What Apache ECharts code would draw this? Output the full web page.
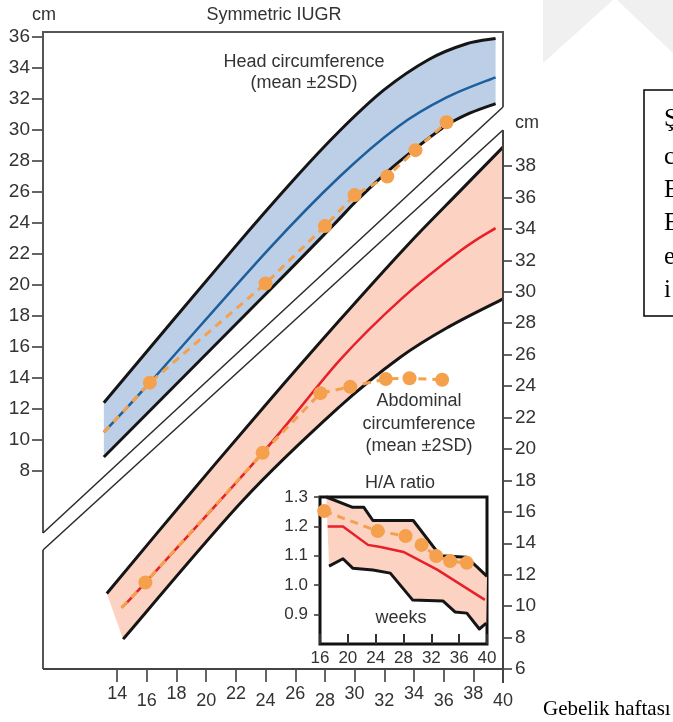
<!DOCTYPE html>
<html><head><meta charset="utf-8">
<script src="https://cdn.jsdelivr.net/npm/echarts@6/dist/echarts.min.js"></script>
<style>html,body{margin:0;padding:0;background:#fff}#c{width:673px;height:722px}</style>
</head><body><div id="c"></div>
<script>
// ---------- DATA ----------
// Head circumference panel: [gestational week, cm] (left axis)
const headUpper = [[13.1,12.4],[21.8,22.3],[26.0,26.9],[29.0,29.95],[32.0,32.6],[35.0,34.55],[37.5,35.55],[39.5,35.9]];
const headMean  = [[13.1,10.5],[16.2,13.7],[24.2,22.3],[29.0,27.0],[32.9,30.2],[36.2,32.1],[39.5,33.4]];
const headLower = [[13.1,8.9],[24.1,19.5],[28.3,23.6],[30.1,25.4],[32.2,27.3],[34.1,28.8],[36.2,30.3],[37.8,31.1],[39.5,31.7]];
const headObs   = [[16.2,13.7],[24.0,20.1],[28.0,23.8],[30.0,25.8],[32.2,27.0],[34.1,28.7],[36.2,30.5]];
// Abdominal circumference panel: [week, cm] (right axis)
const abdUpper = [[13.3,10.8],[18.6,16.8],[24.0,22.8],[29.0,28.2],[33.5,32.9],[37.1,36.4],[40.0,39.2]];
const abdMean  = [[14.3,9.9],[15.9,11.5],[23.8,19.75],[29.0,25.65],[33.1,29.5],[37.2,32.65],[39.5,34.05]];
const abdLower = [[14.4,7.9],[22.5,16.75],[29.0,22.7],[33.1,25.85],[36.4,27.8],[40.0,29.55]];
const abdObs   = [[15.9,11.5],[23.8,19.75],[27.7,23.55],[29.7,23.95],[32.1,24.45],[33.7,24.5],[35.9,24.4]];
// H/A ratio inset: [week, ratio]
const haUpper = [[16.9,1.30],[20.7,1.265],[22.3,1.265],[23.6,1.22],[29.4,1.22],[33.3,1.10],[37.1,1.095],[40.0,1.03]];
const haMean  = [[17.1,1.20],[19.3,1.20],[22.9,1.137],[24.7,1.13],[28.0,1.113],[32.9,1.052],[39.7,0.95]];
const haLower = [[17.3,1.065],[19.3,1.09],[20.7,1.058],[23.6,1.052],[26.1,1.041],[29.3,0.95],[33.7,0.946],[35.4,0.909],[37.1,0.905],[38.9,0.851],[39.9,0.871]];
const haObs   = [[16.6,1.252],[24.3,1.184],[28.3,1.167],[30.6,1.137],[32.7,1.099],[34.7,1.082],[37.1,1.076]];
// Tick labels
const weekTicks = [14,16,18,20,22,24,26,28,30,32,34,36,38,40];
const weekLabelsHigh = [14,18,22,26,30,34,38];
const weekLabelsLow  = [16,20,24,28,32,36,40];
const ratioTicks = [0.9,1.0,1.1,1.2,1.3];
const boxLetters = ['Ş','c','E','E','e','i'];

// ---------- STYLE ----------
const SANS = "'Liberation Sans', Arial, sans-serif";
const SERIF = "'Liberation Serif', 'Times New Roman', serif";
const TXT = '#333';
const ORANGE = '#f4a04c';
const BLACK = '#151515';

function pathOf(pts, move, smooth) {
  let d = (move ? 'M' : 'L') + pts[0][0] + ',' + pts[0][1];
  for (let i = 0; i < pts.length - 1; i++) {
    const p1 = pts[i], p2 = pts[i + 1];
    if (!smooth) { d += 'L' + p2[0] + ',' + p2[1]; continue; }
    const p0 = pts[i - 1] || p1, p3 = pts[i + 2] || p2;
    const c1 = [p1[0] + (p2[0] - p0[0]) / 6, p1[1] + (p2[1] - p0[1]) / 6];
    const c2 = [p2[0] - (p3[0] - p1[0]) / 6, p2[1] - (p3[1] - p1[1]) / 6];
    d += 'C' + c1[0] + ',' + c1[1] + ' ' + c2[0] + ',' + c2[1] + ' ' + p2[0] + ',' + p2[1];
  }
  return d;
}

function band(xi, yi, upper, mean, lower, fill, meanColor, smooth, bw) {
  return {
    type: 'custom', coordinateSystem: 'cartesian2d', xAxisIndex: xi, yAxisIndex: yi,
    z: 2, clip: false, silent: true, data: [upper[1]],
    renderItem: function (params, api) {
      const U = upper.map(p => api.coord(p));
      const M = mean.map(p => api.coord(p));
      const L = lower.map(p => api.coord(p));
      const fd = pathOf(U, true, smooth) + pathOf(L.slice().reverse(), false, smooth) + 'Z';
      return { type: 'group', children: [
        { type: 'path', shape: { pathData: fd }, style: { fill: fill, stroke: 'none' } },
        { type: 'path', shape: { pathData: pathOf(M, true, smooth) }, style: { fill: 'none', stroke: meanColor, lineWidth: 2.5 } },
        { type: 'path', shape: { pathData: pathOf(U, true, smooth) }, style: { fill: 'none', stroke: BLACK, lineWidth: bw, lineJoin: 'round' } },
        { type: 'path', shape: { pathData: pathOf(L, true, smooth) }, style: { fill: 'none', stroke: BLACK, lineWidth: bw, lineJoin: 'round' } }
      ]};
    }
  };
}

function obsLine(xi, yi, start, obs, size) {
  return {
    type: 'line', xAxisIndex: xi, yAxisIndex: yi, z: 4, clip: false, silent: true,
    data: (start ? [{ value: start, symbol: 'none' }] : []).concat(obs),
    symbol: 'circle', symbolSize: size, showSymbol: true,
    lineStyle: { color: ORANGE, width: 3, type: [8, 6] },
    itemStyle: { color: ORANGE }
  };
}

const lab = (size) => ({ fontSize: size, fontFamily: SANS, color: TXT });
const tick = (len, w, inside) => ({ show: true, length: len, inside: !!inside, lineStyle: { color: '#333', width: w } });

function txt(x, y, s, size, align, fam, color) {
  return { type: 'text', x: x, y: y, z: 20, silent: true,
    style: { text: s, fontSize: size, fontFamily: fam || SANS, fill: color || TXT, align: align || 'center', verticalAlign: 'middle' } };
}
function seg(pts, color, w) {
  return { type: 'polyline', z: 15, silent: true, shape: { points: pts }, style: { stroke: color, lineWidth: w, fill: null } };
}

const graphics = [
  { type: 'polygon', z: -10, silent: true, shape: { points: [[543,0],[613,0],[543,63]] }, style: { fill: '#f0f0f0' } },
  { type: 'polygon', z: -10, silent: true, shape: { points: [[617,0],[673,0],[673,53]] }, style: { fill: '#f0f0f0' } },
  seg([[503,107],[503,32],[43,32],[43,533]], '#555', 2),
  seg([[43,533],[503,107]], '#2a2a2a', 1.5),
  seg([[43,550],[503,130]], '#2a2a2a', 1.5),
  seg([[43,550],[43,669]], '#555', 2),
  seg([[43,669],[503,669]], '#444', 2),
  seg([[503,130],[503,683]], '#444', 2),
  txt(274, 15, 'Symmetric IUGR', 18),
  txt(44, 15, 'cm', 18),
  txt(527, 123, 'cm', 18),
  txt(304, 62, 'Head circumference', 18),
  txt(304, 83, '(mean \u00b12SD)', 18),
  txt(419, 401, 'Abdominal', 18),
  txt(419, 424, 'circumference', 18),
  txt(419, 446, '(mean \u00b12SD)', 18),
  txt(400, 483, 'H/A ratio', 18),
  txt(401, 618, 'weeks', 18),
  txt(543, 709, 'Gebelik haftas\u0131', 21, 'left', SERIF, '#000'),
  { type: 'rect', z: 20, silent: true, shape: { x: 644, y: 90, width: 80, height: 226 }, style: { fill: null, stroke: '#000', lineWidth: 1.5 } }
];
const boxY = [119, 157, 190, 223, 257, 290];
boxLetters.forEach((l, i) => graphics.push(txt(664, boxY[i], l, 25, 'left', SERIF, '#000')));

const option = {
  animation: false,
  backgroundColor: '#fff',
  grid: [
    { left: 43, top: 37, width: 460, height: 434 },
    { left: 43, top: 166, width: 460, height: 503 },
    { left: 320, top: 497, width: 167, height: 147, show: true, borderColor: '#111', borderWidth: 3, backgroundColor: '#fff' }
  ],
  xAxis: [
    { gridIndex: 0, type: 'value', min: 9, max: 40, show: false },
    { gridIndex: 1, type: 'value', min: 9, max: 40, position: 'bottom',
      axisLine: { show: false }, splitLine: { show: false },
      axisTick: Object.assign(tick(13, 1.5), { customValues: weekTicks }),
      axisLabel: Object.assign(lab(18), { customValues: weekLabelsHigh, margin: 16 }) },
    { gridIndex: 1, type: 'value', min: 9, max: 40, position: 'bottom',
      axisLine: { show: false }, splitLine: { show: false }, axisTick: { show: false },
      axisLabel: Object.assign(lab(18), { customValues: weekLabelsLow, margin: 23 }) },
    { gridIndex: 2, type: 'value', min: 16, max: 40, interval: 4,
      axisLine: { show: false }, splitLine: { show: false },
      axisTick: tick(10, 2, true), axisLabel: Object.assign(lab(17), { margin: 6 }) }
  ],
  yAxis: [
    { gridIndex: 0, type: 'value', min: 8, max: 36, interval: 2, position: 'left',
      axisLine: { show: false }, splitLine: { show: false },
      axisTick: tick(11, 1.5), axisLabel: Object.assign(lab(19), { margin: 13 }) },
    { gridIndex: 1, type: 'value', min: 6, max: 38, interval: 2, position: 'right',
      axisLine: { show: false }, splitLine: { show: false },
      axisTick: tick(9, 1.5), axisLabel: Object.assign(lab(19), { margin: 12 }) },
    { gridIndex: 2, type: 'value', min: 0.8, max: 1.3, position: 'left',
      axisLine: { show: false }, splitLine: { show: false },
      axisTick: Object.assign(tick(6, 1.5), { customValues: ratioTicks }),
      axisLabel: Object.assign(lab(17), { customValues: ratioTicks, margin: 12, formatter: v => Number(v).toFixed(1) }) }
  ],
  graphic: graphics,
  series: [
    band(0, 0, headUpper, headMean, headLower, '#bccfe6', '#1d5f9c', true, 3),
    obsLine(0, 0, headMean[0], headObs, 14),
    band(1, 1, abdUpper, abdMean, abdLower, '#fcd3c2', '#e8202a', true, 3),
    obsLine(1, 1, abdMean[0], abdObs, 14),
    band(3, 2, haUpper, haMean, haLower, '#fcd3c2', '#e8202a', false, 3),
    obsLine(3, 2, null, haObs, 14)
  ]
};

const chart = echarts.init(document.getElementById('c'), null, { renderer: 'canvas' });
chart.setOption(option);
</script>
</body></html>
